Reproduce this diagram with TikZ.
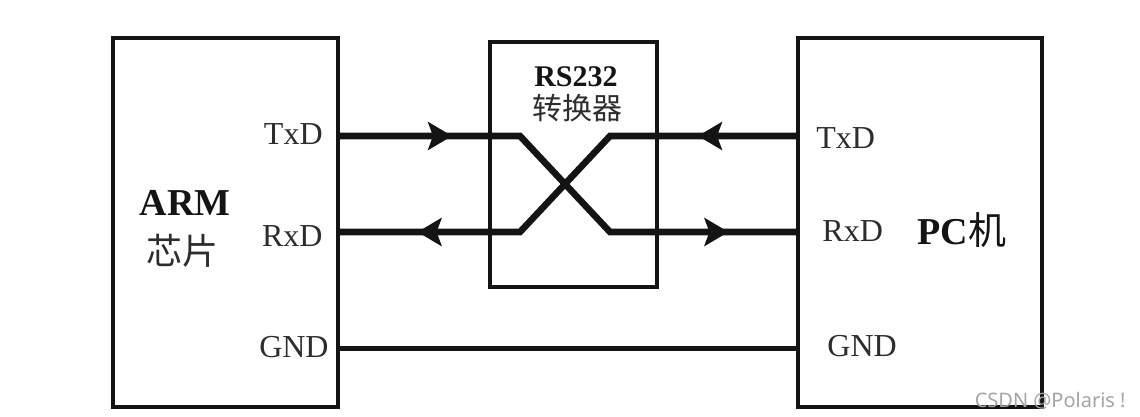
\documentclass[tikz,border=0pt]{standalone}
\usepackage{fontspec}
\setmainfont{Liberation Serif}
\newfontfamily\cjk{Noto Sans CJK SC}
\newfontfamily\wmfont{Noto Sans}
\usetikzlibrary{arrows.meta,decorations.markings}
\definecolor{ink}{RGB}{20,20,20}
\definecolor{text}{RGB}{45,45,45}
\definecolor{soft}{RGB}{165,165,165}
\tikzset{
  every picture/.style={color=ink, x=0.5pt, y=-0.5pt},
  block/.style={draw=ink, line width=1.6pt, fill=white, inner sep=0pt},
  chip/.style={block, minimum width=112.5pt, minimum height=184.5pt},
  conv/.style={block, line width=2.2pt, minimum width=83.5pt, minimum height=122.5pt},
  pin/.style={text=text, inner sep=0pt, font=\fontsize{16pt}{18pt}\selectfont},
  title/.style={text=ink, inner sep=0pt, font=\fontsize{19pt}{22pt}\selectfont\bfseries},
  subtitle/.style={text=text, inner sep=0pt, font=\fontsize{18pt}{21pt}\selectfont\cjk},
  sig/.style={line width=3.3pt, line join=miter},
  gnd/.style={line width=2.5pt},
  wmark/.style={text=soft, inner sep=0pt, font=\fontsize{10pt}{12pt}\wmfont},
}
\begin{document}
\begin{tikzpicture}
  \path[fill=white] (0,0) rectangle (1140,417);
  % the three blocks
  \node[chip] (arm) at (225.5,222.5) {};
  \node[conv] (rs) at (573.5,164.5) {};
  \node[chip, minimum width=122pt] (pc) at (920,222.5) {};
  % labels
  \node[title] (armname) at (185,203) {ARM};
  \node[subtitle] (armsub) at (182,251) {芯片};
  \node[title, font=\fontsize{15pt}{18pt}\selectfont\bfseries] (rsname) at (576,77) {RS232};
  \node[subtitle, font=\fontsize{15pt}{18pt}\selectfont\cjk] (rssub) at (577,108) {转换器};
  \node[title] (pcname) at (962,230) {PC{\mdseries\cjk 机}};
  \node[pin, anchor=east] (armtxd) at (323,134) {TxD};
  \node[pin, anchor=east] (armrxd) at (323,236) {RxD};
  \node[pin, anchor=east] (armgnd) at (329,347) {GND};
  \node[pin, anchor=west] (pctxd) at (816,138) {TxD};
  \node[pin, anchor=west] (pcrxd) at (822,231) {RxD};
  \node[pin, anchor=west] (pcgnd) at (827,346) {GND};
  % pins and cross-over points
  \coordinate (armtx) at (338,136);
  \coordinate (armrx) at (338,232);
  \coordinate (armg) at (338,348);
  \coordinate (pctx) at (798,136);
  \coordinate (pcrx) at (798,232);
  \coordinate (pcg) at (798,348);
  \coordinate (inup) at (520,136);
  \coordinate (indn) at (520,232);
  \coordinate (outup) at (610,136);
  \coordinate (outdn) at (610,232);
  % wires
  \draw[sig, postaction={decorate}, decoration={markings,
      mark=at position 57pt with {\arrow{Stealth[length=12pt, width=14pt, inset=2.5pt]}},
      mark=at position 216pt with {\arrow{Stealth[length=12pt, width=14pt, inset=2.5pt]}}}]
    (armtx) -- (inup) -- (outdn) -- (pcrx);
  \draw[sig, postaction={decorate}, decoration={markings,
      mark=at position 50pt with {\arrow{Stealth[length=12pt, width=14pt, inset=2.5pt]}},
      mark=at position 211pt with {\arrow{Stealth[length=12pt, width=14pt, inset=2.5pt]}}}]
    (pctx) -- (outup) -- (indn) -- (armrx);
  \draw[gnd] (armg) -- (pcg);
  \node[wmark, anchor=south east] (csdn) at (1126,410) {CSDN @Polaris !};
\end{tikzpicture}
\end{document}
